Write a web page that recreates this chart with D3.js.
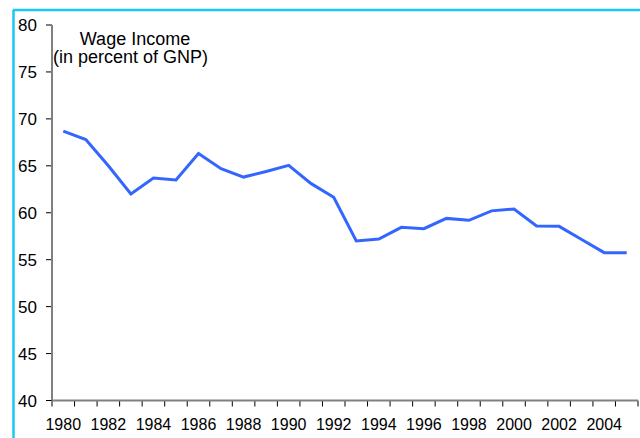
<!DOCTYPE html>
<html><head><meta charset="utf-8">
<script src="https://cdn.jsdelivr.net/npm/d3@7"></script>
<style>html,body{margin:0;padding:0;background:#fff;}svg{display:block;font-family:"Liberation Sans",Arial,sans-serif;}</style>
</head><body>
<svg id="c" width="640" height="438"></svg>
<script>
const years = d3.range(1980, 2006);
const wage = [68.7, 67.8, 65.0, 62.0, 63.7, 63.5, 66.3, 64.7, 63.8, 64.4, 65.05, 63.1, 61.65,
  57.0, 57.2, 58.45, 58.3, 59.4, 59.2, 60.2, 60.4, 58.6, 58.55, 57.15, 55.75, 55.75];
const yTicks = [40, 45, 50, 55, 60, 65, 70, 75, 80];
const titleLines = ["Wage Income", "(in percent of GNP)"];

const svg = d3.select("#c");
const L = 52, R = 638, T = 25, B = 400.5;
const x = d3.scaleBand().domain(years).range([L, R]).padding(0);
const y = d3.scaleLinear().domain([40, 80]).range([B, T]);

// cyan frame
svg.append("line").attr("x1", 13).attr("x2", 640).attr("y1", 10).attr("y2", 10)
  .attr("stroke", "#19c8f2").attr("stroke-width", 2.5);
svg.append("line").attr("x1", 13.5).attr("x2", 13.5).attr("y1", 10).attr("y2", 438)
  .attr("stroke", "#19c8f2").attr("stroke-width", 2.5);

// y axis
const gy = svg.append("g");
gy.selectAll("line.t").data(yTicks).join("line").attr("class", "t")
  .attr("x1", L - 6).attr("x2", L).attr("y1", d => y(d)).attr("y2", d => y(d))
  .attr("stroke", "#000").attr("stroke-width", 1);
gy.selectAll("text").data(yTicks).join("text")
  .attr("x", L - 15).attr("y", d => y(d)).attr("dy", "0.36em")
  .attr("text-anchor", "end").attr("font-size", 17).attr("fill", "#000").text(d => d);

// x axis
const gx = svg.append("g");
const bounds = years.map(d => x(d)).concat([x(years[years.length - 1]) + x.bandwidth()]);
gx.selectAll("line.t").data(bounds).join("line").attr("class", "t")
  .attr("x1", d => d).attr("x2", d => d).attr("y1", B).attr("y2", B + 6)
  .attr("stroke", "#000").attr("stroke-width", 1);
gx.selectAll("text").data(years.filter(d => d % 2 === 0)).join("text")
  .attr("x", d => x(d) + x.bandwidth() / 2).attr("y", 430)
  .attr("text-anchor", "middle").attr("font-size", 16).attr("fill", "#000").text(d => d);

svg.append("line").attr("x1", L).attr("x2", R).attr("y1", B).attr("y2", B)
  .attr("stroke", "#808080").attr("stroke-width", 2);
svg.append("line").attr("x1", L).attr("x2", L).attr("y1", T).attr("y2", B)
  .attr("stroke", "#808080").attr("stroke-width", 2);

// line
const line = d3.line().x((d, i) => x(years[i]) + x.bandwidth() / 2).y(d => y(d));
svg.append("path").datum(wage).attr("d", line).attr("fill", "none")
  .attr("stroke", "#3366ff").attr("stroke-width", 3).attr("stroke-linejoin", "miter");

// title
svg.append("text").attr("x", 135).attr("y", 45).attr("text-anchor", "middle")
  .attr("font-size", 18).attr("fill", "#000").text(titleLines[0]);
svg.append("text").attr("x", 53).attr("y", 63).attr("text-anchor", "start")
  .attr("font-size", 18).attr("fill", "#000").text(titleLines[1]);
</script>
</body></html>
